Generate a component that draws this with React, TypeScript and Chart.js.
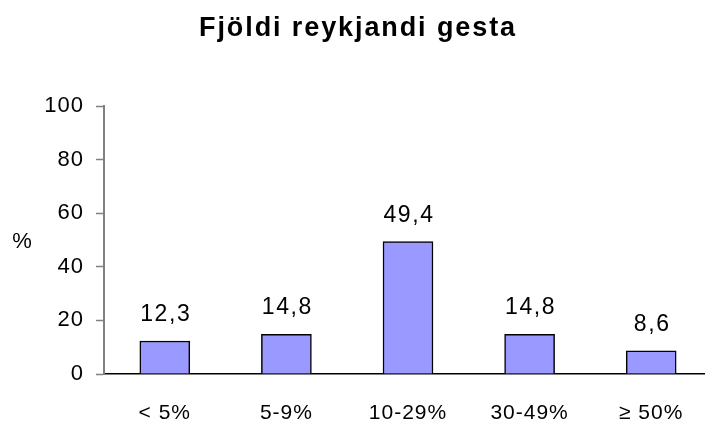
import React, { useEffect, useRef } from "react";
import { Chart, registerables } from "chart.js";

Chart.register(...registerables);

const title = "Fjöldi reykjandi gesta";
const categories = ["< 5%", "5-9%", "10-29%", "30-49%", "≥ 50%"];
const values = [12.3, 14.8, 49.4, 14.8, 8.6];
const yTicks = [0, 20, 40, 60, 80, 100];
const yAxisLabel = "%";

const FONT = "'Liberation Sans', Arial, Helvetica, sans-serif";

const spacingPlugin = {
  id: "spacing",
  beforeDraw(chart: any) {
    chart.ctx.letterSpacing = "1px";
  },
};

const labelsPlugin = {
  id: "valueLabels",
  afterDraw(chart: any) {
    const ctx = chart.ctx;
    const meta = chart.getDatasetMeta(0);
    ctx.save();
    ctx.fillStyle = "#000";
    ctx.letterSpacing = "1.6px";
    ctx.font = `23px ${FONT}`;
    ctx.textAlign = "center";
    ctx.textBaseline = "alphabetic";
    meta.data.forEach((bar: any, i: number) => {
      const txt = values[i].toFixed(1).replace(".", ",");
      ctx.fillText(txt, bar.x + 1, bar.y - 20);
    });
    // y axis title (horizontal)
    ctx.letterSpacing = "0px";
    ctx.font = `22px ${FONT}`;
    const y = chart.scales.y;
    ctx.fillText(yAxisLabel, 22, (y.top + y.bottom) / 2 + 8);
    // chart title
    ctx.letterSpacing = "1.9px";
    ctx.font = `bold 27px ${FONT}`;
    ctx.fillText(title, 358, 36);
    ctx.restore();
  },
};

export default function App() {
  const ref = useRef<HTMLCanvasElement>(null);
  useEffect(() => {
    if (!ref.current) return;
    const chart = new Chart(ref.current, {
      type: "bar",
      data: {
        labels: categories,
        datasets: [
          {
            data: values,
            backgroundColor: "#9999FF",
            borderColor: "#000000",
            borderWidth: 1.5,
            barThickness: 50,
          },
        ],
      },
      options: {
        responsive: false,
        animation: false,
        layout: { padding: { top: 106, left: 0, right: 0, bottom: 0 } },
        plugins: {
          legend: { display: false },
          tooltip: { enabled: false },
          title: { display: false },
        },
        scales: {
          x: {
            grid: { display: true, drawOnChartArea: false, drawTicks: false },
            border: { display: true, color: "#000", width: 1.5 },
            ticks: {
              color: "#000",
              font: { family: FONT, size: 21 },
              padding: 27,
              maxRotation: 0,
              autoSkip: false,
            },
            afterFit: (s: any) => {
              s.height = 49;
            },
          },
          y: {
            min: 0,
            max: 100,
            afterBuildTicks: (s: any) => {
              s.ticks = yTicks.map((v) => ({ value: v }));
            },
            grid: {
              display: true,
              drawOnChartArea: false,
              drawTicks: true,
              tickLength: 8,
              tickColor: "#808080",
              tickWidth: 1.5,
            },
            border: { display: true, color: "#808080", width: 2 },
            ticks: {
              color: "#000",
              font: { family: FONT, size: 22 },
              padding: 12,
            },
            afterFit: (s: any) => {
              s.width = 104;
            },
          },
        },
      },
      plugins: [spacingPlugin, labelsPlugin],
    });
    return () => chart.destroy();
  }, []);
  return (
    <div
      style={{
        position: "absolute",
        left: 0,
        top: 0,
        width: 705,
        height: 423,
        overflow: "hidden",
        background: "#fff",
      }}
    >
      <canvas ref={ref} width={712} height={423} style={{ display: "block" }} />
    </div>
  );
}
